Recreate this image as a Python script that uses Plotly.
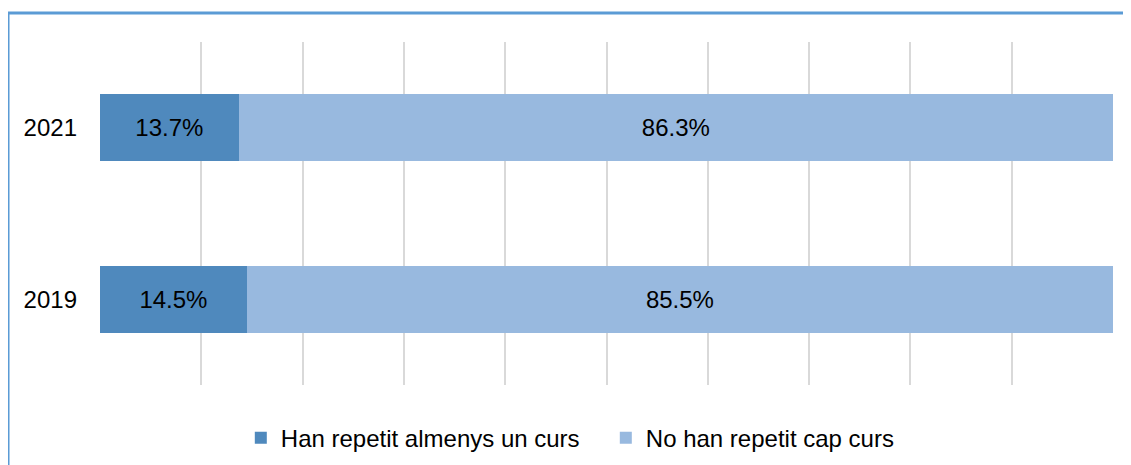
import plotly.graph_objects as go

years = ["2019", "2021"]
repeated = [14.5, 13.7]
not_repeated = [85.5, 86.3]
series_names = ["Han repetit almenys un curs", "No han repetit cap curs"]
colors = ["#4F89BD", "#98B9DF"]

fig = go.Figure()
for name, vals, col in zip(series_names, [repeated, not_repeated], colors):
    fig.add_trace(go.Bar(
        y=years, x=vals, name=name, orientation="h",
        marker=dict(color=col, line=dict(width=0)),
        text=[f"{v:.1f}%" for v in vals],
        textposition="inside", insidetextanchor="middle",
        textfont=dict(color="#000000", size=24, family="Liberation Sans, Arial"),
        hoverinfo="skip",
    ))

# page body adds an 8px margin, so the figure is sized/offset to compensate
fig.update_layout(
    width=1123, height=457,
    barmode="stack", bargap=0.61,
    paper_bgcolor="white", plot_bgcolor="white",
    margin=dict(l=92, r=18, t=34, b=80),
    font=dict(family="Liberation Sans, Arial", size=24, color="#000000"),
    xaxis=dict(range=[0, 100], dtick=10, showticklabels=False, showgrid=True,
               gridcolor="#D9D9D9", gridwidth=2, zeroline=False, fixedrange=True),
    yaxis=dict(showgrid=False, ticklabelstandoff=22, zeroline=False),
    legend=dict(orientation="h", x=0.139, xanchor="left",
                yref="container", y=0.059, yanchor="middle",
                font=dict(size=24), traceorder="normal",
                entrywidth=320, entrywidthmode="pixels"),
    showlegend=True,
    shapes=[dict(type="rect", xref="paper", yref="paper",
                 x0=-0.0908, x1=1.1, y0=-0.5, y1=1.0845,
                 line=dict(color="#5B9BD5", width=3), layer="above")],
)

fig.write_html("out.html")
